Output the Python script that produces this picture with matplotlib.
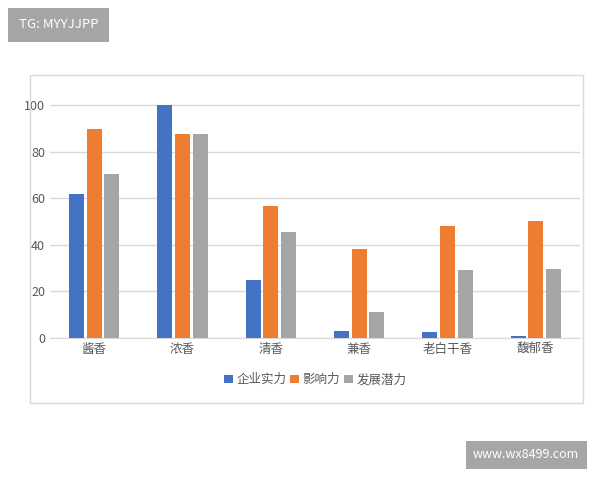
import numpy as np
import matplotlib.pyplot as plt
from matplotlib.patches import Rectangle

plt.rcParams['font.sans-serif'] = ['Noto Sans CJK SC', 'DejaVu Sans']

categories = ['酱香', '浓香', '清香', '兼香', '老白干香', '馥郁香']
strength = [62, 100, 25, 3, 2.5, 1]
influence = [89.5, 87.5, 56.5, 38, 48, 50]
potential = [70.5, 87.5, 45.5, 11, 29, 29.5]
series_names = ['企业实力', '影响力', '发展潜力']
colors = ['#4472C4', '#ED7D31', '#A5A5A5']

fig = plt.figure(figsize=(6, 4.8), dpi=100)
# outer chart frame
fig.patches.append(Rectangle((30/600, 1-403/480), 553/600, 328/480, transform=fig.transFigure,
                             fill=False, edgecolor='#d9d9d9', lw=1))
ax = fig.add_axes([50/600, 1-338/480, 530/600, 240/480])

x = np.arange(len(categories))
step = 0.2
w = 0.17
for i, vals in enumerate([strength, influence, potential]):
    ax.bar(x + (i - 1) * step, vals, w, color=colors[i], label=series_names[i], zorder=3)

ax.set_ylim(0, 103)
ax.set_xlim(-0.5, len(categories) - 0.5)
ax.set_yticks(range(0, 101, 20))
ax.set_xticks(x)
ax.set_xticklabels(categories)
ax.grid(axis='y', color='#d9d9d9', lw=1, zorder=0)
ax.tick_params(length=0, labelsize=9, colors='#595959')
for s in ['top', 'right', 'left']:
    ax.spines[s].set_visible(False)
ax.spines['bottom'].set_color('#d9d9d9')
ax.legend(loc='upper center', bbox_to_anchor=(0.5, -0.1), ncol=3, frameon=False,
          fontsize=9, handlelength=0.7, handleheight=0.7, columnspacing=0.3, handletextpad=0.3,
          labelcolor='#595959')

# watermark boxes
fig.text(19/600, 1-25/480, 'TG: MYYJJPP', color='white', fontsize=9.5, va='center',
         bbox=dict(boxstyle='square,pad=0.8', fc='#a6a6a6', ec='none'))
fig.text(473/600, 1-455/480, 'www.wx8499.com', color='white', fontsize=9, va='center',
         bbox=dict(boxstyle='square,pad=0.6', fc='#a6a6a6', ec='none'))

fig.savefig('out.png')
